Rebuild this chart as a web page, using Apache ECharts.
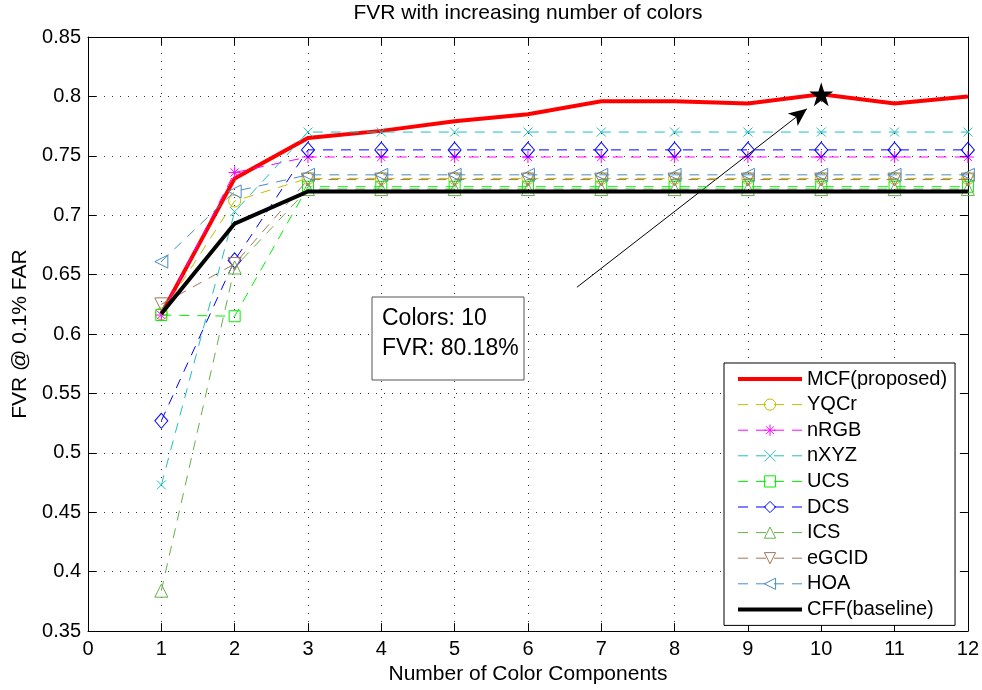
<!DOCTYPE html>
<html><head><meta charset="utf-8">
<script src="https://cdn.jsdelivr.net/npm/echarts@6/dist/echarts.min.js"></script>
<style>html,body{margin:0;padding:0;background:#fff}#c{width:982px;height:690px}</style>
</head><body><div id="c"></div>
<script>
// ---- data ----
const components = [1, 2, 3, 4, 5, 6, 7, 8, 9, 10, 11, 12];
const mcf   = [0.617, 0.731, 0.765, 0.771, 0.779, 0.785, 0.796, 0.796, 0.794, 0.8018, 0.794, 0.800];
const yqcr  = [0.617, 0.712, 0.731, 0.731, 0.731, 0.731, 0.731, 0.731, 0.731, 0.731, 0.731, 0.731];
const nrgb  = [0.616, 0.736, 0.749, 0.749, 0.749, 0.749, 0.749, 0.749, 0.749, 0.749, 0.749, 0.749];
const nxyz  = [0.473, 0.703, 0.770, 0.770, 0.770, 0.770, 0.770, 0.770, 0.770, 0.770, 0.770, 0.770];
const ucs   = [0.616, 0.615, 0.724, 0.724, 0.724, 0.724, 0.724, 0.724, 0.724, 0.724, 0.724, 0.724];
const dcs   = [0.527, 0.662, 0.755, 0.755, 0.755, 0.755, 0.755, 0.755, 0.755, 0.755, 0.755, 0.755];
const ics   = [0.384, 0.656, 0.722, 0.722, 0.722, 0.722, 0.722, 0.722, 0.722, 0.722, 0.722, 0.722];
const egcid = [0.625, 0.659, 0.730, 0.730, 0.730, 0.730, 0.730, 0.730, 0.730, 0.730, 0.730, 0.730];
const hoa   = [0.661, 0.720, 0.734, 0.734, 0.734, 0.734, 0.734, 0.734, 0.734, 0.734, 0.734, 0.734];
const cff   = [0.617, 0.693, 0.720, 0.720, 0.720, 0.720, 0.720, 0.720, 0.720, 0.720, 0.720, 0.720];
const seriesNames = ['MCF(proposed)', 'YQCr', 'nRGB', 'nXYZ', 'UCS', 'DCS', 'ICS', 'eGCID', 'HOA', 'CFF(baseline)'];
const seriesValues = [mcf, yqcr, nrgb, nxyz, ucs, dcs, ics, egcid, hoa, cff];
const bestPoint = { colors: 10, fvr: 0.8018 };
const annotationLines = ['Colors: 10', 'FVR: 80.18%'];
const arrowFrom = [6.668, 0.6394];
const arrowTo = [9.805, 0.7896];
const titleText = 'FVR with increasing number of colors';
const xName = 'Number of Color Components';
const yName = 'FVR @ 0.1% FAR';

// ---- styles ----
const FONT = "'Liberation Sans', Arial, Helvetica, sans-serif";
const DASH = [10, 8];
const ASTER = 'path://M5,0L5,10M0,5L10,5M1.6,1.6L8.4,8.4M1.6,8.4L8.4,1.6';
const XMARK = 'path://M0,0L10,10M0,10L10,0';
const STAR = 'path://M50,0L61.2,34.5L97.6,34.5L68.2,55.9L79.4,90.5L50,69.1L20.6,90.5L31.8,55.9L2.4,34.5L38.8,34.5Z';
const styles = [
  { color: '#ff0000', width: 4, type: 'solid', symbol: 'none' },
  { color: '#bfbf00', width: 1, type: DASH, symbol: 'circle', size: 12 },
  { color: '#ff00ff', width: 1, type: DASH, symbol: ASTER, size: 12 },
  { color: '#1fbfbf', width: 1, type: DASH, symbol: XMARK, size: 9 },
  { color: '#00f000', width: 1, type: DASH, symbol: 'rect', size: 11 },
  { color: '#0000ff', width: 1, type: DASH, symbol: 'diamond', size: [13, 15] },
  { color: '#66b04a', width: 1, type: DASH, symbol: 'triangle', size: 13 },
  { color: '#a0765a', width: 1, type: DASH, symbol: 'triangle', size: 13, rotate: 180 },
  { color: '#4a8cc2', width: 1, type: DASH, symbol: 'triangle', size: 13, rotate: 90 },
  { color: '#000000', width: 4, type: 'solid', symbol: 'none' }
];

const chart = echarts.init(document.getElementById('c'), null, { renderer: 'canvas' });

const series = seriesNames.map((name, i) => {
  const st = styles[i];
  const s = {
    name: name,
    type: 'line',
    xAxisIndex: 0, yAxisIndex: 0,
    data: components.map((c, j) => [c, seriesValues[i][j]]),
    symbol: st.symbol === 'none' ? 'circle' : st.symbol,
    showSymbol: st.symbol !== 'none',
    symbolSize: st.size || 0,
    symbolRotate: st.rotate || 0,
    lineStyle: { color: st.color, width: st.width, type: st.type, cap: 'butt', join: 'miter' },
    itemStyle: st.symbol === 'none'
      ? { color: 'transparent', borderColor: 'transparent', borderWidth: 0 }
      : { color: 'transparent', borderColor: st.color, borderWidth: 1 },
    emphasis: { disabled: true },
    silent: true,
    z: 2 + i
  };
  if (i === 0) {
    s.markPoint = {
      silent: true,
      symbol: STAR, symbolSize: 24,
      itemStyle: { color: '#000', borderColor: '#000', borderWidth: 0 },
      label: { show: false },
      data: [{ coord: [bestPoint.colors, bestPoint.fvr] }]
    };
    s.markLine = {
      silent: true,
      symbol: ['none', 'arrow'],
      lineStyle: { color: '#000', width: 1, type: 'solid' },
      label: { show: false },
      emphasis: { disabled: true },
      data: [[
        { coord: arrowFrom, symbol: 'none' },
        { coord: arrowTo, symbol: 'arrow', symbolSize: [12, 18] }
      ]]
    };
  }
  return s;
});

const axisCommonX = {
  type: 'value', min: 0, max: 12, interval: 1,
  axisLine: { show: true, onZero: false, lineStyle: { color: '#000', width: 1 } },
  axisTick: { show: true, inside: true, length: 8, lineStyle: { color: '#000', width: 1 } },
  splitLine: { show: false }
};
const axisCommonY = {
  type: 'value', min: 0.35, max: 0.85, interval: 0.05,
  axisLine: { show: true, onZero: false, lineStyle: { color: '#000', width: 1 } },
  axisTick: { show: true, inside: true, length: 8, lineStyle: { color: '#000', width: 1 } },
  splitLine: { show: false }
};
const gridLine = { show: true, lineStyle: { color: '#333', width: 1, type: [1, 7] } };

const option = {
  animation: false,
  backgroundColor: '#ffffff',
  title: {
    text: titleText, left: 528, top: 3, padding: 0, textAlign: 'center',
    textStyle: { fontFamily: FONT, fontSize: 21, fontWeight: 'normal', color: '#000' }
  },
  grid: { left: 88, right: 14, top: 37, bottom: 56, containLabel: false },
  xAxis: [
    Object.assign({}, axisCommonX, {
      position: 'bottom', name: xName, nameLocation: 'middle', nameGap: 32,
      nameTextStyle: { fontFamily: FONT, fontSize: 21, color: '#000' },
      axisLabel: { show: true, margin: 8, fontFamily: FONT, fontSize: 20, color: '#000' },
      splitLine: gridLine
    }),
    Object.assign({}, axisCommonX, { position: 'top', axisLabel: { show: false } })
  ],
  yAxis: [
    Object.assign({}, axisCommonY, {
      position: 'left', name: yName, nameLocation: 'middle', nameGap: 55, nameRotate: 90,
      nameTextStyle: { fontFamily: FONT, fontSize: 21, color: '#000' },
      axisLabel: { show: true, margin: 7, fontFamily: FONT, fontSize: 20, color: '#000',
        formatter: v => String(+(+v).toFixed(2)) },
      splitLine: gridLine
    }),
    Object.assign({}, axisCommonY, { position: 'right', axisLabel: { show: false } })
  ],
  legend: {
    orient: 'vertical', left: 724, top: 363,
    padding: [6, 8, 6, 12], itemGap: 5.6, itemWidth: 64, itemHeight: 14,
    backgroundColor: '#fff', borderColor: '#000', borderWidth: 1, borderRadius: 0,
    selectedMode: false,
    textStyle: { fontFamily: FONT, fontSize: 20, color: '#000', lineHeight: 20 },
    data: seriesNames.map((n, i) => {
      const st = styles[i];
      return {
        name: n,
        lineStyle: { color: st.color, width: st.width, type: st.type, cap: 'butt' },
        itemStyle: st.symbol === 'none'
          ? { color: 'transparent', borderColor: 'transparent', borderWidth: 0 }
          : { color: 'transparent', borderColor: st.color, borderWidth: 1 }
      };
    })
  },
  graphic: [
    { type: 'rect', z: 100, shape: { x: 372, y: 297, width: 152, height: 83 },
      style: { fill: '#fff', stroke: '#555', lineWidth: 1 } },
    { type: 'text', z: 101, x: 382, y: 319,
      style: { text: annotationLines[0], fontFamily: FONT, fontSize: 23, fill: '#000', verticalAlign: 'middle', align: 'left' } },
    { type: 'text', z: 101, x: 382, y: 349,
      style: { text: annotationLines[1], fontFamily: FONT, fontSize: 23, fill: '#000', verticalAlign: 'middle', align: 'left' } }
  ],
  series: series
};
chart.setOption(option);
</script>
</body></html>
